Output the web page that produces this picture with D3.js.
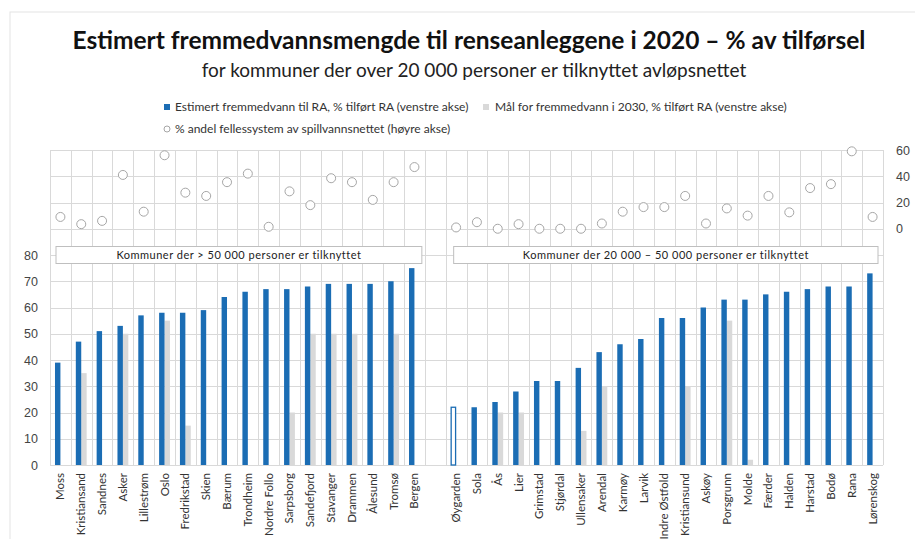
<!DOCTYPE html>
<html>

<head>
    <meta charset="utf-8">
    <style>
        body {
            margin: 0;
            background: #fff;
        }

        svg {
            font-family: Lato, "Open Sans", sans-serif;
        }

        .title {
            font-size: 24.5px;
            font-weight: 700;
            fill: #111;
        }

        .subtitle {
            font-size: 19px;
            fill: #222;
        }

        .legend text {
            font-size: 12px;
            fill: #333;
        }

        .grid line {
            stroke: #d9d9d9;
            stroke-width: 1;
        }

        .axis .domain {
            display: none;
        }

        .axis .tick text {
            font-size: 12.5px;
            fill: #444;
        }

        .xlabel {
            font-size: 11.5px;
            fill: #333;
        }

        .group-box rect {
            fill: #fff;
            stroke: #bfbfbf;
        }

        .group-box text {
            font-size: 11px;
            fill: #222;
            letter-spacing: 0.5px;
        }
    </style>
    <title>Fremmedvann 2020</title>
</head>

<body>
    <svg width="915" height="539"></svg>

    <script src="https://cdn.jsdelivr.net/npm/d3@7"></script>
    <script>
        // kommuner der > 50 000 personer er tilknyttet
        let storeKommuner = ["Moss", "Kristiansand", "Sandnes", "Asker", "Lillestrøm", "Oslo", "Fredrikstad",
            "Skien", "Bærum", "Trondheim", "Nordre Follo", "Sarpsborg", "Sandefjord", "Stavanger",
            "Drammen", "Ålesund", "Tromsø", "Bergen"]
        let storeFremmedvann = [39, 47, 51, 53, 57, 58, 58, 59, 64, 66, 67, 67, 68, 69, 69, 69, 70, 75]
        let storeMaal2030 = [null, 35, null, 50, null, 55, 15, null, null, null, null, 20, 50, 50, 50, null, 50, null]
        let storeFellessystem = [9, 3.5, 6, 41, 13, 56, 27.5, 25, 35.5, 42, 1.5, 28.5, 18, 38.5, 35.5, 22, 35.5, 47]

        // kommuner der 20 000 - 50 000 personer er tilknyttet
        let mellomKommuner = ["Øygarden", "Sola", "Ås", "Lier", "Grimstad", "Stjørdal", "Ullensaker", "Arendal",
            "Karmøy", "Larvik", "Indre Østfold", "Kristiansund", "Askøy", "Porsgrunn", "Molde", "Færder",
            "Halden", "Harstad", "Bodø", "Rana", "Lørenskog"]
        let mellomFremmedvann = [22, 22, 24, 28, 32, 32, 37, 43, 46, 48, 56, 56, 60, 63, 63, 65, 66, 67, 68, 68, 73]
        let mellomMaal2030 = [null, null, 20, 20, null, null, 13, 30, null, null, null, 30, null, 55, 2, null, null, null, null, null, null]
        let mellomFellessystem = [1, 5, 0, 3.5, 0, 0, 0, 4, 13, 16.5, 16.5, 25, 4, 15.5, 10, 25, 12.5, 31, 34, 59, 9]

        // Øygarden is drawn as an open bar in the original
        let aapneSoyler = ["Øygarden"]

        let leftTicks = [0, 10, 20, 30, 40, 50, 60, 70, 80]
        let rightTicks = [0, 20, 40, 60]

        let legendLabels = [
            "Estimert fremmedvann til RA, % tilført RA (venstre akse)",
            "Mål for fremmedvann i 2030, % tilført RA (venstre akse)",
            "% andel fellessystem av spillvannsnettet (høyre akse)"
        ]
        let groupLabels = [
            "Kommuner der > 50 000 personer er tilknyttet",
            "Kommuner der 20 000 – 50 000 personer er tilknyttet"
        ]

        let blue = "#1b6db4"
        let grey = "#d9d9d9"

        let margin = { top: 150, right: 32, bottom: 74, left: 50 }
        let width = 915
        let height = 539

        // one table with a gap slot between the two groups
        let rows = []
        storeKommuner.forEach((k, i) => rows.push({ key: k, v: storeFremmedvann[i], m: storeMaal2030[i], f: storeFellessystem[i] }))
        rows.push({ key: "__gap", v: null, m: null, f: null })
        mellomKommuner.forEach((k, i) => rows.push({ key: k, v: mellomFremmedvann[i], m: mellomMaal2030[i], f: mellomFellessystem[i] }))

        let svg = d3.select("svg")

        // light frame around the chart
        svg.append("rect")
            .attr("x", 10)
            .attr("y", 12)
            .attr("width", 940)
            .attr("height", 560)
            .attr("fill", "none")
            .attr("stroke", "#e3e3e3")

        let x = d3.scaleBand()
            .domain(rows.map(d => d.key))
            .range([margin.left, width - margin.right])

        let x1 = d3.scaleBand()
            .domain(["v", "m"])
            .range([0, x.bandwidth()])
            .paddingOuter(0.92)

        let yL = d3.scaleLinear()
            .domain([0, 120])
            .range([height - margin.bottom, margin.top])

        // right axis shares the top of the plot: 0 sits at 90 on the left axis
        let yR = d3.scaleLinear()
            .domain([-180, 60])
            .range([height - margin.bottom, margin.top])

        // grid
        let grid = svg.append("g").attr("class", "grid")
        grid.selectAll(".h")
            .data(d3.range(0, 121, 10))
            .join("line")
            .attr("class", "h")
            .attr("x1", x.range()[0])
            .attr("x2", x.range()[1])
            .attr("y1", d => Math.round(yL(d)) + 0.5)
            .attr("y2", d => Math.round(yL(d)) + 0.5)

        grid.selectAll(".v")
            .data(rows.map(d => d.key).concat(["__end"]))
            .join("line")
            .attr("class", "v")
            .attr("x1", (d, i) => Math.round(x.range()[0] + i * x.step()) + 0.5)
            .attr("x2", (d, i) => Math.round(x.range()[0] + i * x.step()) + 0.5)
            .attr("y1", yL(120))
            .attr("y2", yL(0))

        // axes
        svg.append("g")
            .attr("class", "axis")
            .attr("transform", `translate(${margin.left},0)`)
            .call(d3.axisLeft(yL).tickValues(leftTicks).tickSize(0).tickPadding(12))

        svg.append("g")
            .attr("class", "axis")
            .attr("transform", `translate(${width - margin.right},0)`)
            .call(d3.axisRight(yR).tickValues(rightTicks).tickSize(0).tickPadding(13))

        // bars
        let bars = svg.append("g")

        bars.selectAll(".maal")
            .data(rows.filter(d => d.m != null))
            .join("rect")
            .attr("class", "maal")
            .attr("x", d => x(d.key) + x1("m"))
            .attr("width", x1.bandwidth())
            .attr("y", d => yL(d.m))
            .attr("height", d => yL(0) - yL(d.m))
            .attr("fill", grey)

        bars.selectAll(".verdi")
            .data(rows.filter(d => d.v != null))
            .join("rect")
            .attr("class", "verdi")
            .attr("x", d => x(d.key) + x1("v") + (aapneSoyler.includes(d.key) ? 0.5 : 0))
            .attr("width", d => aapneSoyler.includes(d.key) ? x1.bandwidth() - 1 : x1.bandwidth())
            .attr("y", d => yL(d.v))
            .attr("height", d => yL(0) - yL(d.v))
            .attr("fill", d => aapneSoyler.includes(d.key) ? "#fff" : blue)
            .attr("stroke", d => aapneSoyler.includes(d.key) ? blue : "none")
            .attr("stroke-width", 1.3)

        // fellessystem dots on the right axis
        svg.append("g")
            .selectAll("circle")
            .data(rows.filter(d => d.f != null))
            .join("circle")
            .attr("cx", d => x(d.key) + x.bandwidth() / 2)
            .attr("cy", d => yR(d.f))
            .attr("r", 4.5)
            .attr("fill", "#fff")
            .attr("stroke", "#a6a6a6")
            .attr("stroke-width", 1)

        // group boxes
        let boxes = [
            { label: groupLabels[0], x0: x(storeKommuner[0]) + 6, x1: x(storeKommuner[storeKommuner.length - 1]) + x.bandwidth() - 3 },
            { label: groupLabels[1], x0: x(mellomKommuner[0]) + 8, x1: x.range()[1] - 5 }
        ]
        let box = svg.selectAll(".group-box")
            .data(boxes)
            .join("g")
            .attr("class", "group-box")
        box.append("rect")
            .attr("x", d => d.x0)
            .attr("width", d => d.x1 - d.x0)
            .attr("y", yL(80) - 8.5)
            .attr("height", 17)
        box.append("text")
            .attr("x", d => (d.x0 + d.x1) / 2)
            .attr("y", yL(80) + 4)
            .attr("text-anchor", "middle")
            .text(d => d.label)

        // category labels
        svg.append("g")
            .selectAll("text")
            .data(rows.filter(d => d.key != "__gap"))
            .join("text")
            .attr("class", "xlabel")
            .attr("transform", d => `translate(${x(d.key) + x.bandwidth() / 2 + 4},${yL(0) + 8}) rotate(-90)`)
            .attr("text-anchor", "end")
            .text(d => d.key)

        // titles
        svg.append("text")
            .attr("class", "title")
            .attr("x", 469)
            .attr("y", 49)
            .attr("text-anchor", "middle")
            .text("Estimert fremmedvannsmengde til renseanleggene i 2020 – % av tilførsel")

        svg.append("text")
            .attr("class", "subtitle")
            .attr("x", 474)
            .attr("y", 77)
            .attr("text-anchor", "middle")
            .text("for kommuner der over 20 000 personer er tilknyttet avløpsnettet")

        // legend
        let legend = svg.append("g").attr("class", "legend")
        legend.append("rect")
            .attr("x", 164).attr("y", 104).attr("width", 6).attr("height", 6)
            .attr("fill", blue)
        legend.append("text").attr("x", 175).attr("y", 111).text(legendLabels[0])
        legend.append("rect")
            .attr("x", 483).attr("y", 104).attr("width", 6).attr("height", 6)
            .attr("fill", grey)
        legend.append("text").attr("x", 495).attr("y", 111).text(legendLabels[1])
        legend.append("circle")
            .attr("cx", 167).attr("cy", 129).attr("r", 3)
            .attr("fill", "#fff").attr("stroke", "#a6a6a6")
        legend.append("text").attr("x", 175).attr("y", 133).text(legendLabels[2])
    </script>
</body>

</html>
